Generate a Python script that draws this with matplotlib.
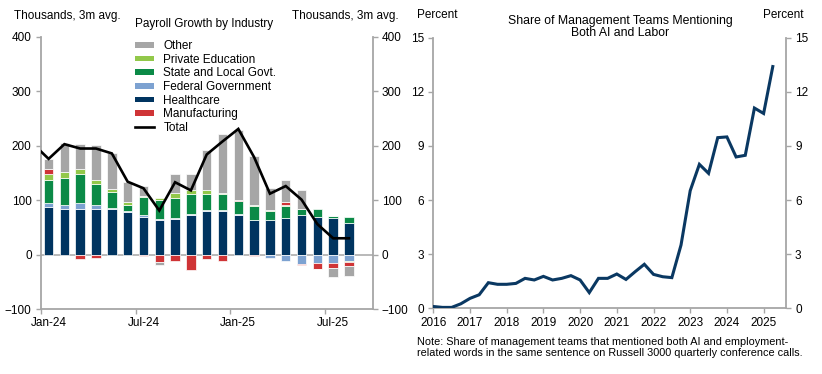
import numpy as np
import pandas as pd
import matplotlib
matplotlib.use("Agg")
import matplotlib.pyplot as plt

plt.rcParams["font.family"] = ["Liberation Sans", "DejaVu Sans"]
plt.rcParams["font.size"] = 8

# --- lewy wykres: zatrudnienie wg branzy (tys., srednia 3m) ---
months = ["Jan-24", "Feb-24", "Mar-24", "Apr-24", "May-24", "Jun-24", "Jul-24", "Aug-24",
          "Sep-24", "Oct-24", "Nov-24", "Dec-24", "Jan-25", "Feb-25", "Mar-25", "Apr-25",
          "May-25", "Jun-25", "Jul-25", "Aug-25"]
healthcare = [87, 83, 84, 84, 83, 78, 70, 63, 66, 72, 80, 80, 73, 64, 64, 67, 72, 69, 67, 59]
federal = [7, 9, 10, 7, 2, 2, 3, 3, 2, 2, 2, 2, 1, 0, -6, -12, -17, -15, -15, -12]
state_local = [43, 48, 54, 38, 30, 12, 32, 35, 36, 37, 30, 30, 25, 25, 16, 22, 11, 14, 4, 11]
private_ed = [11, 11, 10, 9, 6, 5, 3, 3, 10, 8, 6, 2, 0, 2, 2, 3, 1, -1, 0, -1]
manufacturing = [9, 0, -9, -6, 0, 0, -3, -14, -12, -29, -9, -12, 2, -2, 0, 4, -3, -10, -10, -8]
other = [19, 54, 46, 63, 66, 36, 18, -6, 34, 30, 74, 108, 128, 91, 40, 42, 34, -1, -17, -18]
# linia Total zaczyna sie od Dec-23 (punkt przyciety na krawedzi osi)
total = [204, 176, 203, 195, 195, 186, 134, 122, 81, 133, 118, 184, 208, 231, 179, 112,
         126, 101, 56, 30, 30]
label_months = ["Jan-24", "Jul-24", "Jan-25", "Jul-25"]

# --- prawy wykres: udzial zarzadow wspominajacych AI i prace (%) ---
share_start = "2016Q1"
ai_labor_share = [0.10, 0.05, 0.05, 0.25, 0.55, 0.75, 1.42, 1.33, 1.33, 1.38, 1.66, 1.57,
                  1.77, 1.57, 1.66, 1.81, 1.57, 0.87, 1.66, 1.66, 1.90, 1.60, 2.03, 2.44,
                  1.88, 1.75, 1.70, 3.51, 6.52, 7.98, 7.48, 9.46, 9.50, 8.39, 8.48, 11.10,
                  10.80, 13.40]
years = list(range(2016, 2026))

COLORS = {
    "Other": "#A6A6A6",
    "Private Education": "#92C84A",
    "State and Local Govt.": "#0B8A47",
    "Federal Government": "#7DA2D1",
    "Healthcare": "#003460",
    "Manufacturing": "#CF3436",
}
GRID_GRAY = "#A6A6A6"
W, H = 822, 374


def fx(px):
    return px / W


def fy(py):
    return 1 - py / H


def style_axes(ax):
    for side in ["left", "right", "bottom"]:
        ax.spines[side].set_color(GRID_GRAY)
        ax.spines[side].set_linewidth(1.3)
    ax.spines["top"].set_visible(False)
    ax.tick_params(axis="y", which="both", direction="out", length=3.5, width=1,
                   color=GRID_GRAY, left=True, right=True, labelleft=True,
                   labelright=True, pad=3, labelsize=8.5)
    ax.tick_params(axis="x", direction="out", length=3.5, width=1, color=GRID_GRAY)


fig = plt.figure(figsize=(W / 100, H / 100), dpi=100)

# ---------------- lewy ----------------
ax1 = fig.add_axes([fx(40.7), fy(309), fx(372.7 - 40.7), (309 - 37) / H])
x = np.arange(len(months)) + 0.5
series = [
    ("Healthcare", healthcare),
    ("Federal Government", federal),
    ("State and Local Govt.", state_local),
    ("Private Education", private_ed),
    ("Manufacturing", manufacturing),
    ("Other", other),
]
pos = np.zeros(len(months))
neg = np.zeros(len(months))
handles = {}
for name, vals in series:
    v = np.array(vals, dtype=float)
    bottom = np.where(v >= 0, pos, neg)
    b = ax1.bar(x, v, bottom=bottom, width=0.6, color=COLORS[name],
                edgecolor="white", linewidth=0.5, zorder=2)
    handles[name] = b
    pos = pos + np.where(v >= 0, v, 0)
    neg = neg + np.where(v < 0, v, 0)

x_total = np.arange(len(total)) - 0.5
(line_total,) = ax1.plot(x_total, total, color="black", lw=1.9, zorder=4,
                         solid_joinstyle="miter")
ax1.axhline(0, color=GRID_GRAY, lw=1.1, zorder=1)

ax1.set_xlim(0, 21)
ax1.set_ylim(-100, 400)
ax1.set_yticks(range(-100, 401, 100))
ax1.set_xticks([0, 6, 12, 18])
ax1.set_xticklabels([])
ax1.set_xticks([months.index(m) + 0.5 for m in label_months], minor=True)
ax1.set_xticklabels(label_months, minor=True)
style_axes(ax1)
ax1.tick_params(axis="x", which="minor", length=0, pad=6, labelsize=8.5)

leg_order = ["Other", "Private Education", "State and Local Govt.", "Federal Government",
             "Healthcare", "Manufacturing"]
leg = ax1.legend([handles[n] for n in leg_order] + [line_total], leg_order + ["Total"],
                 loc="upper left", bbox_to_anchor=(fx(135), fy(40)),
                 bbox_transform=fig.transFigure, frameon=False, fontsize=8.5,
                 handlelength=1.6, handleheight=0.35, handletextpad=0.8,
                 labelspacing=0.14, borderpad=0, borderaxespad=0)
for p in leg.get_patches():
    p.set_edgecolor("none")

fig.text(fx(14), fy(16), "Thousands, 3m avg.", ha="left", va="center", fontsize=8.5)
fig.text(fx(292), fy(16), "Thousands, 3m avg.", ha="left", va="center", fontsize=8.5)
fig.text(fx(135), fy(24), "Payroll Growth by Industry", ha="left", va="center", fontsize=8.5)

# ---------------- prawy ----------------
ax2 = fig.add_axes([fx(433.3), fy(308.3), fx(786 - 433.3), (308.3 - 37.7) / H])
quarters = pd.period_range(share_start, periods=len(ai_labor_share), freq="Q")
xq = np.array([q.year + (q.quarter - 1) / 4 for q in quarters])
ax2.plot(xq, ai_labor_share, color="#0A3862", lw=2.2, solid_joinstyle="miter", zorder=3)
ax2.set_xlim(2016, 2025.61)
ax2.set_ylim(0, 15)
ax2.set_yticks(range(0, 16, 3))
ax2.set_xticks(years)
ax2.set_xticklabels([str(y) for y in years])
style_axes(ax2)
ax2.tick_params(axis="x", labelsize=8.5, pad=3)

fig.text(fx(417), fy(15), "Percent", ha="left", va="center", fontsize=8.5)
fig.text(fx(763), fy(15), "Percent", ha="left", va="center", fontsize=8.5)
fig.text(fx(620), fy(15), "Share of Management Teams Mentioning\nBoth AI and Labor",
         ha="center", va="top", fontsize=8.8, linespacing=1.0)
fig.text(fx(417), fy(337),
         "Note: Share of management teams that mentioned both AI and employment-\n"
         "related words in the same sentence on Russell 3000 quarterly conference calls.",
         ha="left", va="top", fontsize=7.8, linespacing=1.1)

fig.savefig("out.png", dpi=100)
